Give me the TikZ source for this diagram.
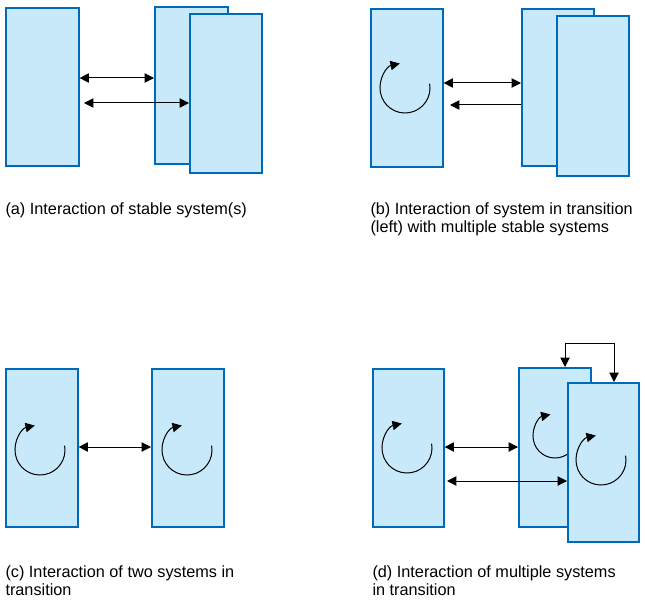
\documentclass[tikz,border=0pt]{standalone}
\usepackage{fontspec}
\setmainfont{Liberation Sans}
\usetikzlibrary{arrows.meta,calc}
\tikzset{every picture/.style={line width=0.75pt}}
\tikzset{
  sys/.style 2 args={draw={rgb,255:red,0;green,106;blue,186},fill={rgb,255:red,200;green,233;blue,249},line width=1.2pt,anchor=north west,inner sep=0pt,minimum width=#1*0.75pt,minimum height=#2*0.75pt},
  link/.style={{Triangle[length=7pt,width=7pt]}-{Triangle[length=7pt,width=7pt]}},
  oneway/.style={-{Triangle[length=7pt,width=7pt]}},
  caption/.style={anchor=north west,inner sep=0pt,align=left,font=\fontsize{12.2}{13.6}\selectfont}
}
\newcommand{\spin}[2]{\draw[-{Triangle[length=7pt,width=7pt]}] ($(#1)+(-10:#2)$) arc[start angle=-10,end angle=258,radius=#2];}
\begin{document}
\begin{tikzpicture}[x=0.75pt,y=0.75pt,yscale=-1,xscale=1]
\useasboundingbox (0,0) rectangle (645,606);

%Panel (a)
\node[sys={73}{158}] (a1) at (5,7) {};
\node[sys={73}{157}] (a2) at (154,6) {};
\node[sys={72}{159}] (a3) at (189,13) {};
\draw[link] (a1.east|-0,78) -- (a2.west|-0,78);
\draw[link] (84,103) -- (a3.west|-0,103);
\node[caption] (ca) at (5,202) {(a) Interaction of stable system(s)};

%Panel (b)
\node[sys={72}{158}] (b1) at (370,8) {};
\node[sys={72}{157}] (b2) at (521,8) {};
\node[sys={72}{160}] (b3) at (556,15) {};
\spin{405,88}{25}
\draw[link] (b1.east|-0,83) -- (b2.west|-0,83);
\draw[oneway] (b2.west|-0,105) -- (450,105);
\node[caption] (cb) at (370,202) {(b) Interaction of system in transition\\(left) with multiple stable systems};

%Panel (c)
\node[sys={72}{158}] (c1) at (5,368) {};
\node[sys={72}{158}] (c2) at (151,368) {};
\spin{40,450}{25}
\spin{187,450}{25}
\draw[link] (c1.east|-0,447) -- (c2.west|-0,447);
\node[caption] (cc) at (5,565) {(c) Interaction of two systems in\\transition};

%Panel (d)
\node[sys={71}{158}] (d1) at (372,368) {};
\node[sys={72}{159}] (d2) at (518,367) {};
\spin{407,448}{25}
\spin{555,436}{22}
\node[sys={71}{159}] (d3) at (567,382) {};
\spin{601,460}{25}
\draw[link] (d1.east|-0,447) -- (d2.west|-0,447);
\draw[link] (447,481) -- (d3.west|-0,481);
\draw[oneway] (565,343) -- (d2.north-|565,0);
\draw[oneway] (565,343) -- (614,343) -- (d3.north-|614,0);
\node[caption] (cd) at (372,565) {(d) Interaction of multiple systems\\in transition};
\end{tikzpicture}
\end{document}
